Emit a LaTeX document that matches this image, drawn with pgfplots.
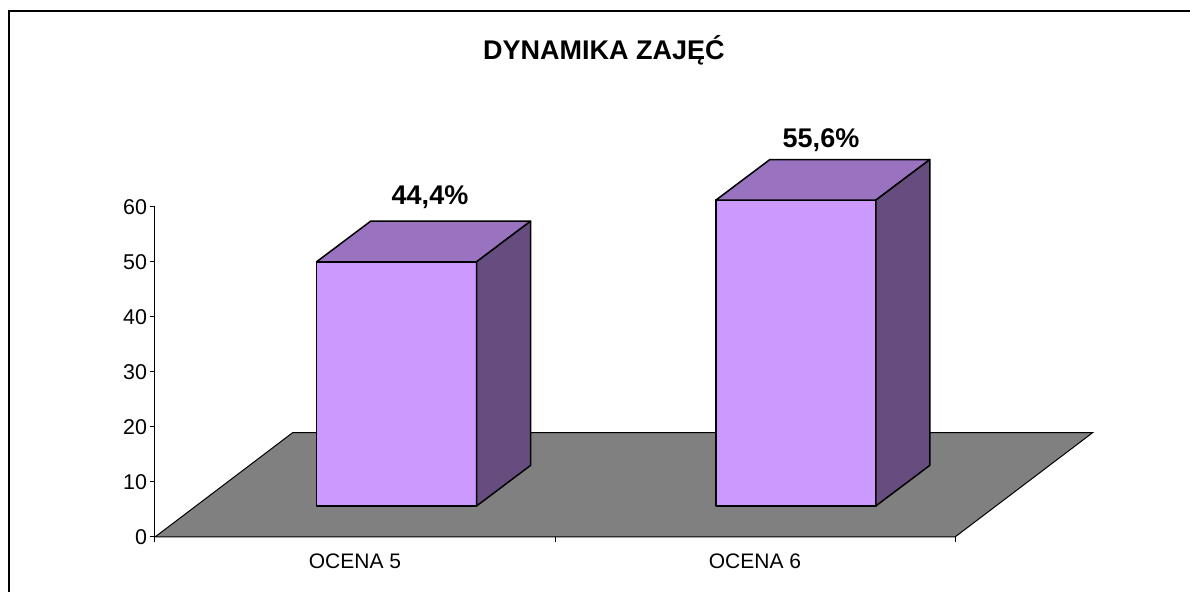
\documentclass[border=0pt]{standalone}
\usepackage{pgfplots}
\pgfplotsset{compat=1.18}
\usepackage{fontspec}
\setmainfont{Liberation Sans}
\definecolor{barfront}{HTML}{CC99FF}
\definecolor{bartop}{HTML}{9973BF}
\definecolor{barside}{HTML}{664C7F}
\definecolor{floorgray}{HTML}{808080}
\begin{document}
\begin{tikzpicture}
\useasboundingbox (-77.5pt,-27.5pt) rectangle (517.5pt,268.5pt);
\draw[line width=0.8pt] (-73pt,-27.5pt) -- (-73pt,263pt) -- (517.5pt,263pt);
\begin{axis}[
  at={(0pt,0pt)}, anchor=origin,
  scale only axis, width=400pt, height=165pt,
  xmin=0, xmax=2, ymin=0, ymax=60,
  clip=false,
  axis x line*=bottom, axis y line*=left,
  axis line style={line width=0.5pt},
  tick align=outside,
  major tick length=2.6pt,
  ytick={0,10,20,30,40,50,60},
  xtick={0,1,2}, xticklabels={},
  extra x ticks={0.5,1.5},
  extra x tick labels={OCENA 5,OCENA 6},
  extra x tick style={tick style={draw=none}},
  tick style={line width=0.5pt, color=black},
  /pgf/number format/assume math mode=true,
  yticklabel style={font=\fontsize{10.7}{12}\selectfont, inner sep=1.2pt},
  xticklabel style={font=\fontsize{10.5}{12}\selectfont, yshift=-2.5pt},
]
% floor
\addplot[fill=floorgray, draw=black, line width=0.5pt] coordinates {(0,0) (2,0) (2.344,18.96) (0.344,18.96)} -- cycle;
% bar OCENA 5 : 44.4
\addplot[fill=barfront, draw=black, line width=0.75pt, line join=round] coordinates {(0.404,5.64) (0.804,5.64) (0.804,50.04) (0.404,50.04)} -- cycle;
\addplot[fill=bartop, draw=black, line width=0.75pt, line join=round] coordinates {(0.404,50.04) (0.804,50.04) (0.939,57.42) (0.539,57.42)} -- cycle;
\addplot[fill=barside, draw=black, line width=0.75pt, line join=round] coordinates {(0.804,5.64) (0.939,13.02) (0.939,57.42) (0.804,50.04)} -- cycle;
% bar OCENA 6 : 55.6
\addplot[fill=barfront, draw=black, line width=0.75pt, line join=round] coordinates {(1.402,5.64) (1.802,5.64) (1.802,61.24) (1.402,61.24)} -- cycle;
\addplot[fill=bartop, draw=black, line width=0.75pt, line join=round] coordinates {(1.402,61.24) (1.802,61.24) (1.937,68.62) (1.537,68.62)} -- cycle;
\addplot[fill=barside, draw=black, line width=0.75pt, line join=round] coordinates {(1.802,5.64) (1.937,13.02) (1.937,68.62) (1.802,61.24)} -- cycle;
\node[font=\fontsize{13.5}{15}\selectfont\bfseries] at (axis cs:0.6875,61.8) {44,4\%};
\node[font=\fontsize{13.5}{15}\selectfont\bfseries] at (axis cs:1.665,72.2) {55,6\%};
\end{axis}
\node[font=\fontsize{13.5}{15}\selectfont\bfseries] at (224.5pt,243.5pt) {DYNAMIKA ZAJĘĆ};
\end{tikzpicture}
\end{document}
